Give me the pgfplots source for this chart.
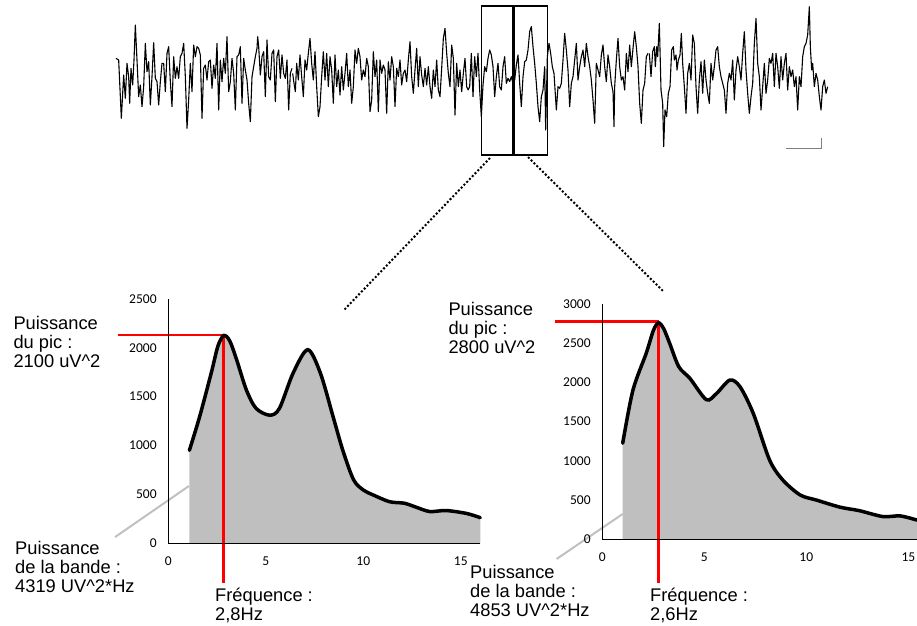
\documentclass[border=0pt]{standalone}
\usepackage{fontspec}
\setmainfont{Liberation Sans}
\newfontfamily\carlito{Carlito}
\usepackage{pgfplots}
\pgfplotsset{compat=1.18}

\definecolor{fillgray}{RGB}{191,191,191}
\definecolor{linegray}{RGB}{192,192,192}
\newcommand\annot{\fontsize{18.3}{19}\selectfont}

\pgfplotsset{
  spectre/.style={
    scale only axis, enlargelimits=false, clip=false, axis on top,
    axis x line=bottom, axis y line=left,
    axis line style={-, line width=1.5pt},
    major tick length=0pt,
    xtick={0,5,10,15},
    ticklabel style={font=\carlito\fontsize{13.5}{14}\selectfont},
    /pgf/number format/assume math mode=true,
    /pgf/number format/1000 sep={},
    xticklabel style={anchor=center, yshift=-18pt},
    yticklabel style={anchor=east, inner sep=0pt, xshift=-11.5pt},
  },
  eeg/.style={black, line width=1.1pt, line join=round},
}

\begin{document}
\begin{tikzpicture}
\useasboundingbox (0,0) rectangle (917pt,625pt);

% canvas in pixel units: trace, zoom box, dotted lines, notes
\begin{axis}[at={(0,0)}, anchor=south west, scale only axis,
  width=917pt, height=625pt, xmin=0, xmax=917, ymin=0, ymax=625,
  y dir=reverse, hide axis, clip=false, enlargelimits=false]

\addplot[eeg] table[row sep=\\,
  x expr=\thisrow{zx}/3+112, y expr=\thisrow{zy}/3+20] {zx zy\\
12 115\\20 120\\28 295\\35 165\\40 235\\45 130\\50 170\\53 250\\57 145\\62 195\\
66 120\\70 15\\75 120\\80 230\\85 195\\90 260\\95 200\\100 70\\105 155\\110 125\\
115 255\\120 170\\125 68\\130 175\\135 185\\140 255\\145 185\\150 130\\155 130\\160 215\\
165 100\\170 80\\175 185\\180 260\\185 110\\190 175\\195 140\\200 175\\205 110\\210 100\\
215 70\\220 170\\225 325\\230 240\\235 130\\240 215\\245 75\\250 110\\255 80\\260 85\\
265 105\\270 295\\275 145\\280 135\\285 180\\290 125\\295 120\\300 205\\305 135\\310 175\\
315 70\\320 270\\325 120\\330 185\\335 115\\340 160\\345 50\\350 215\\355 185\\360 115\\
365 160\\370 270\\375 110\\380 105\\385 80\\390 250\\395 115\\400 150\\405 180\\410 250\\
415 305\\420 170\\425 140\\430 110\\435 85\\437 50\\440 80\\445 165\\450 110\\455 95\\
460 230\\465 60\\470 170\\475 180\\480 100\\485 90\\490 245\\495 110\\500 90\\505 175\\
510 105\\515 160\\520 175\\525 120\\530 270\\535 160\\540 145\\};

\addplot[eeg] table[row sep=\\,
  x expr=\thisrow{zx}/3+290, y expr=\thisrow{zy}/3+20] {zx zy\\
8 160\\12 190\\16 215\\20 130\\25 180\\30 105\\35 170\\40 230\\45 120\\50 150\\
55 100\\60 55\\65 130\\70 180\\75 95\\80 200\\85 290\\90 260\\95 170\\100 95\\
105 180\\110 100\\115 200\\120 110\\125 150\\130 250\\135 105\\140 200\\145 150\\150 225\\
155 140\\160 210\\165 160\\170 100\\175 200\\180 150\\185 250\\190 200\\195 90\\200 130\\
205 85\\210 110\\215 180\\220 150\\225 170\\230 115\\235 140\\240 275\\245 240\\250 95\\
255 170\\260 120\\265 275\\270 120\\275 160\\280 135\\285 150\\290 280\\295 125\\300 180\\
305 110\\310 140\\315 260\\320 145\\325 170\\330 120\\335 195\\340 160\\345 150\\350 185\\
355 120\\360 65\\365 170\\370 220\\375 150\\380 85\\385 200\\390 110\\395 165\\400 200\\
405 145\\410 195\\415 140\\420 200\\425 235\\430 150\\435 200\\440 120\\445 210\\450 230\\
455 145\\460 55\\465 25\\470 100\\475 160\\480 200\\485 75\\490 115\\495 285\\500 130\\
505 200\\510 150\\515 215\\520 160\\525 115\\530 200\\535 210\\};

\addplot[eeg] table[row sep=\\,
  x expr=\thisrow{zx}/3+468, y expr=\thisrow{zy}/3] {zx zy\\
0 270\\5 260\\10 160\\15 290\\20 170\\25 230\\30 160\\35 270\\40 350\\45 255\\
50 200\\55 215\\60 175\\65 150\\70 165\\75 200\\80 290\\85 230\\90 190\\95 260\\
100 270\\105 200\\110 170\\115 250\\120 235\\125 245\\130 230\\135 250\\140 240\\145 195\\
150 165\\155 250\\160 320\\165 230\\170 185\\175 180\\180 150\\185 95\\190 80\\195 140\\
200 190\\205 250\\210 320\\215 365\\220 290\\225 270\\230 200\\233 390\\238 170\\243 130\\
248 160\\253 200\\258 220\\265 330\\270 260\\275 265\\280 250\\285 180\\290 100\\295 150\\
300 210\\305 320\\310 250\\315 230\\320 180\\325 130\\330 240\\335 200\\340 170\\345 150\\
350 200\\355 130\\360 170\\365 200\\370 240\\375 300\\380 370\\385 190\\390 210\\395 230\\
400 165\\405 135\\410 200\\415 245\\420 165\\425 200\\430 250\\435 275\\438 380\\440 260\\
445 180\\450 115\\455 200\\460 240\\465 230\\470 270\\475 160\\480 215\\485 135\\490 200\\
495 145\\500 95\\505 140\\510 200\\515 310\\520 370\\525 270\\530 250\\535 170\\540 160\\};

\addplot[eeg] table[row sep=\\,
  x expr=\thisrow{zx}/3+646, y expr=\thisrow{zy}/3] {zx zy\\
10 160\\15 230\\20 155\\25 140\\28 200\\32 140\\35 170\\40 70\\45 270\\50 310\\
53 440\\57 330\\62 350\\67 280\\72 260\\77 150\\82 140\\85 180\\90 165\\93 210\\
97 180\\102 165\\106 100\\110 190\\115 260\\120 340\\125 220\\130 190\\135 240\\140 105\\
145 130\\150 260\\155 340\\160 240\\165 185\\170 280\\175 180\\180 240\\185 280\\190 310\\
195 190\\200 240\\205 200\\210 150\\215 140\\220 200\\225 230\\230 250\\235 270\\240 340\\
245 250\\250 220\\255 240\\260 180\\265 300\\270 210\\275 170\\280 200\\285 240\\290 160\\
295 95\\300 210\\305 280\\310 340\\315 290\\320 250\\325 130\\330 55\\335 190\\340 230\\
345 330\\350 260\\355 190\\360 280\\365 240\\370 175\\375 190\\380 160\\385 260\\390 160\\
395 200\\400 265\\405 170\\410 240\\415 190\\420 160\\425 270\\430 200\\435 230\\440 210\\
445 260\\450 230\\455 330\\460 230\\465 260\\470 170\\475 140\\480 130\\485 105\\490 20\\
493 140\\497 210\\500 190\\505 260\\510 220\\515 240\\520 290\\525 330\\530 260\\535 240\\
540 280\\545 260\\};

% zoom window and its centre line
\addplot[black, line width=1.6pt, line join=miter] coordinates {
  (481.3,6) (547.3,6) (547.3,155) (481.3,155) (481.3,6)};
\addplot[black, line width=3.2pt] coordinates {(513.7,6) (513.7,155)};

% scale bar
\addplot[gray, line width=1pt] coordinates {(786,148.3) (821,148.3) (821,138.3)};

% dotted guides
\addplot[black, line width=2pt, dash pattern=on 2pt off 2pt] coordinates {(490,158) (343.5,310.5)};
\addplot[black, line width=2pt, dash pattern=on 2pt off 2pt] coordinates {(528,157) (664,292)};

% notes, left spectrum
\node[anchor=base west, font=\annot, inner sep=0pt] at (axis cs:13.3,329) {Puissance};
\node[anchor=base west, font=\annot, inner sep=0pt] at (axis cs:13.3,348) {du pic :};
\node[anchor=base west, font=\annot, inner sep=0pt] at (axis cs:13.3,367) {2100 uV\^{}2};
\node[anchor=base west, font=\annot, inner sep=0pt] at (axis cs:15,554.3) {Puissance};
\node[anchor=base west, font=\annot, inner sep=0pt] at (axis cs:15,573.3) {de la bande :};
\node[anchor=base west, font=\annot, inner sep=0pt] at (axis cs:15,592.5) {4319 UV\^{}2*Hz};
\node[anchor=base west, font=\annot, inner sep=0pt] at (axis cs:215,601) {Fréquence :};
\node[anchor=base west, font=\annot, inner sep=0pt] at (axis cs:215,620) {2,8Hz};

% notes, right spectrum
\node[anchor=base west, font=\annot, inner sep=0pt] at (axis cs:448.3,315) {Puissance};
\node[anchor=base west, font=\annot, inner sep=0pt] at (axis cs:448.3,334) {du pic :};
\node[anchor=base west, font=\annot, inner sep=0pt] at (axis cs:448.3,353.3) {2800 uV\^{}2};
\node[anchor=base west, font=\annot, inner sep=0pt] at (axis cs:470,578.3) {Puissance};
\node[anchor=base west, font=\annot, inner sep=0pt] at (axis cs:470,597.3) {de la bande :};
\node[anchor=base west, font=\annot, inner sep=0pt] at (axis cs:470,616.3) {4853 UV\^{}2*Hz};
\node[anchor=base west, font=\annot, inner sep=0pt] at (axis cs:650,601.7) {Fréquence :};
\node[anchor=base west, font=\annot, inner sep=0pt] at (axis cs:650,620.7) {2,6Hz};
\end{axis}

% left spectrum
\begin{axis}[spectre, at={(168.3pt,81.7pt)}, anchor=south west,
  width=312pt, height=244.5pt, xmin=0, xmax=16, ymin=0, ymax=2500,
  ytick={0,500,...,2500}]
\addplot[fill=fillgray, draw=none, smooth] coordinates {
  (1.08,950) (1.6,1290) (2.2,1740) (2.55,2020) (2.85,2125) (3.15,2070) (3.5,1880)
  (4.0,1570) (4.5,1380) (5.2,1310) (5.7,1380) (6.4,1740) (7.15,1980) (7.8,1740)
  (8.45,1295) (8.95,950) (9.5,650) (10.0,545) (10.5,495) (11.35,425) (12.1,410)
  (12.7,370) (13.4,325) (14.25,335) (15.3,305) (16.0,262)} \closedcycle;
\addplot[linegray, line width=2pt] coordinates {(1.06,586) (-2.73,64)};
\addplot[red, line width=2.5pt] coordinates {(-2.58,2130) (2.85,2130)};
\addplot[red, line width=2.5pt] coordinates {(2.82,2130) (2.82,-406)};
\addplot[black, line width=3.5pt, smooth, line cap=round] coordinates {
  (1.08,950) (1.6,1290) (2.2,1740) (2.55,2020) (2.85,2125) (3.15,2070) (3.5,1880)
  (4.0,1570) (4.5,1380) (5.2,1310) (5.7,1380) (6.4,1740) (7.15,1980) (7.8,1740)
  (8.45,1295) (8.95,950) (9.5,650) (10.0,545) (10.5,495) (11.35,425) (12.1,410)
  (12.7,370) (13.4,325) (14.25,335) (15.3,305) (16.0,262)};
\end{axis}

% right spectrum
\begin{axis}[spectre, at={(602.3pt,85.7pt)}, anchor=south west,
  width=314.6pt, height=235.3pt, xmin=0, xmax=15.42, ymin=0, ymax=3000,
  ytick={0,500,...,3000}]
\addplot[fill=fillgray, draw=none, smooth] coordinates {
  (1.0,1225) (1.5,1900) (2.15,2370) (2.5,2660) (2.75,2760) (3.0,2690) (3.3,2500)
  (3.75,2200) (4.3,2050) (5.1,1780) (5.6,1860) (6.25,2030) (6.75,1945) (7.4,1605)
  (8.2,1010) (8.85,755) (9.7,565) (10.5,500) (11.65,410) (12.6,365) (13.75,290)
  (14.6,298) (15.42,245)} \closedcycle;
\addplot[linegray, line width=2pt] coordinates {(1.0,323) (-2.24,-251)};
\addplot[red, line width=2.5pt] coordinates {(-2.32,2774) (2.78,2774)};
\addplot[red, line width=2.5pt] coordinates {(2.75,2774) (2.75,-557)};
\addplot[black, line width=3.5pt, smooth, line cap=round] coordinates {
  (1.0,1225) (1.5,1900) (2.15,2370) (2.5,2660) (2.75,2760) (3.0,2690) (3.3,2500)
  (3.75,2200) (4.3,2050) (5.1,1780) (5.6,1860) (6.25,2030) (6.75,1945) (7.4,1605)
  (8.2,1010) (8.85,755) (9.7,565) (10.5,500) (11.65,410) (12.6,365) (13.75,290)
  (14.6,298) (15.42,245)};
\end{axis}
\end{tikzpicture}
\end{document}
